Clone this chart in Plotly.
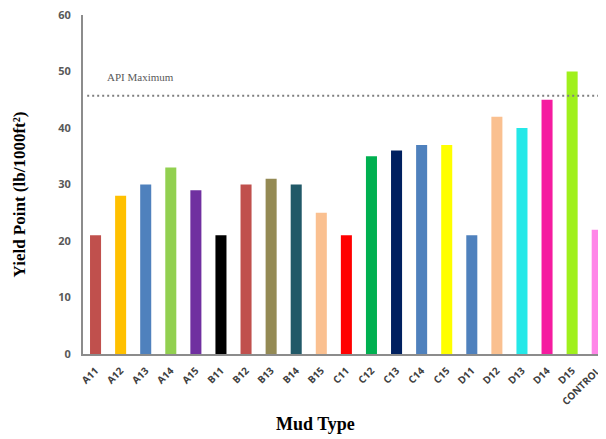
import plotly.graph_objects as go

categories = ["A11", "A12", "A13", "A14", "A15", "B11", "B12", "B13", "B14", "B15",
              "C11", "C12", "C13", "C14", "C15", "D11", "D12", "D13", "D14", "D15", "CONTROL"]
yield_point = [21, 28, 30, 33, 29, 21, 30, 31, 30, 25,
               21, 35, 36, 37, 37, 21, 42, 40, 45, 50, 22]
bar_colors = ["#C0504D", "#FFC000", "#4F81BD", "#92D050", "#7030A0", "#000000", "#C0504D",
              "#948A54", "#215968", "#FAC090", "#FF0000", "#00B050", "#002060", "#4F81BD",
              "#FFFF00", "#4F81BD", "#FAC090", "#25E8E8", "#F51BA0", "#A0F01C", "#FF86E8"]
api_maximum = 45.7
y_ticks = [0, 10, 20, 30, 40, 50, 60]

fig = go.Figure()
fig.add_trace(go.Bar(
    x=list(range(len(categories))), y=yield_point,
    marker=dict(color=bar_colors, line=dict(width=0)),
    width=0.44, showlegend=False,
))

fig.add_shape(type="line", xref="paper", yref="y", x0=0.008, x1=1,
              y0=api_maximum, y1=api_maximum,
              line=dict(color="#7F7F7F", width=2, dash="2px,3px"))
fig.add_annotation(xref="paper", yref="y", x=0.042, y=49, xanchor="left", yanchor="middle",
                   text="API Maximum", showarrow=False,
                   font=dict(family="Liberation Serif", size=11, color="#595959"))

# axis titles
fig.add_annotation(xref="paper", yref="paper", x=0.4436, y=-0.207, xanchor="center",
                   yanchor="middle", text="Mud Type", showarrow=False,
                   font=dict(family="Liberation Serif", size=18, color="black", weight="bold"))
fig.add_annotation(xref="paper", yref="paper", x=-0.1205, y=0.4705, xanchor="center",
                   yanchor="middle", text="Yield Point (lb/1000ft²)", showarrow=False,
                   textangle=-90,
                   font=dict(family="Liberation Serif", size=17, color="black", weight="bold"))

# page body has an 8px default margin, so the figure is sized to fill the rest of the window
fig.update_layout(
    width=598, height=431,
    margin=dict(l=75, r=0, t=7, b=85),
    plot_bgcolor="white", paper_bgcolor="white",
    xaxis=dict(
        tickmode="array", tickvals=list(range(len(categories))), ticktext=categories,
        range=[-0.5, 20.35], tickangle=-45, automargin=False,
        tickfont=dict(family="Open Sans", size=10, color="#404040", weight="bold"),
        showline=True, linecolor="#8C8C8C", linewidth=2, showgrid=False, ticks="",
        ticklabelstandoff=5, ticklabeloverflow="allow",
    ),
    yaxis=dict(
        range=[0, 60], tickvals=y_ticks, automargin=False,
        tickfont=dict(family="Open Sans", size=11, color="#595959", weight="bold"),
        showline=True, linecolor="#8C8C8C", linewidth=2, showgrid=False, zeroline=False,
        ticks="", ticklabelstandoff=8, ticklabeloverflow="allow",
    ),
)

fig.write_html("out.html")
